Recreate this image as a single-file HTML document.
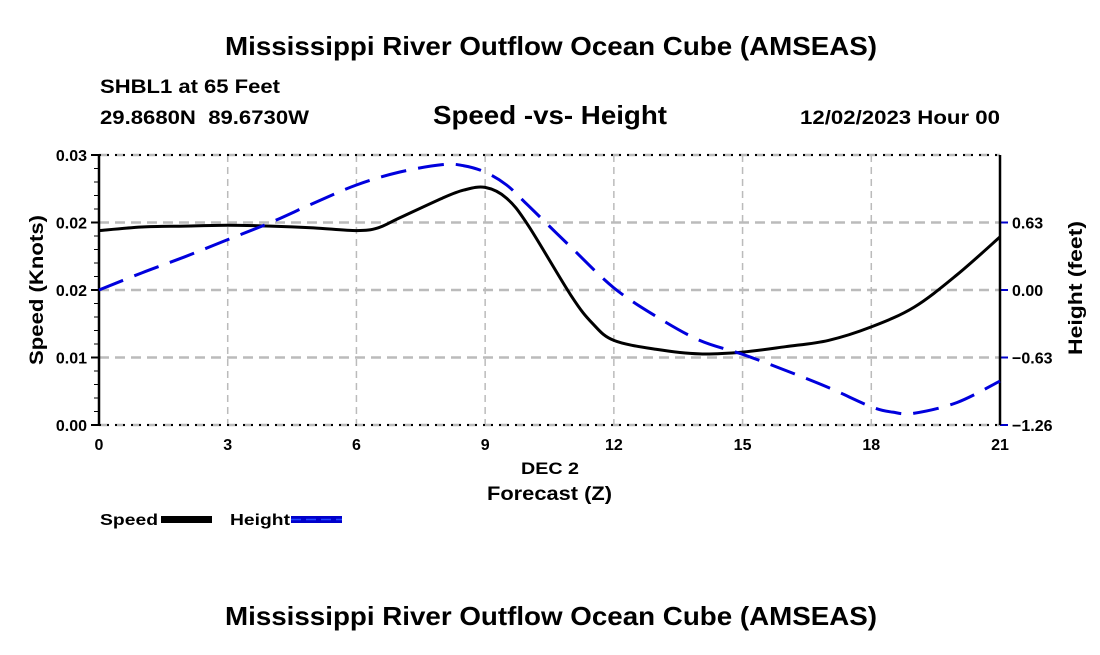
<!DOCTYPE html>
<html><head><meta charset="utf-8"><style>
body{margin:0;background:#fff;}
svg text{font-family:"Liberation Sans",Arial,sans-serif;font-weight:bold;fill:#000;}
</style></head><body>
<svg id="chart" width="1100" height="650" xmlns="http://www.w3.org/2000/svg">
<text x="225" y="55" font-size="26" textLength="652" lengthAdjust="spacingAndGlyphs">Mississippi River Outflow Ocean Cube (AMSEAS)</text>
<text x="100" y="93" font-size="19" textLength="180" lengthAdjust="spacingAndGlyphs">SHBL1 at 65 Feet</text>
<text x="100" y="124" font-size="19" textLength="209" lengthAdjust="spacingAndGlyphs" xml:space="preserve">29.8680N  89.6730W</text>
<text x="433" y="124" font-size="26" textLength="234" lengthAdjust="spacingAndGlyphs">Speed -vs- Height</text>
<text x="800" y="124" font-size="19" textLength="200" lengthAdjust="spacingAndGlyphs">12/02/2023 Hour 00</text>
<g id="grid"></g>
<g id="axes"></g>
<g id="series"></g>
<text x="521" y="474" font-size="17" textLength="58" lengthAdjust="spacingAndGlyphs">DEC 2</text>
<text x="487" y="500" font-size="19" textLength="125" lengthAdjust="spacingAndGlyphs">Forecast (Z)</text>
<text transform="translate(43,365) rotate(-90)" font-size="19" textLength="150" lengthAdjust="spacingAndGlyphs">Speed (Knots)</text>
<text transform="translate(1082,355) rotate(-90)" font-size="19" textLength="134" lengthAdjust="spacingAndGlyphs">Height (feet)</text>
<g><text x="100" y="525" font-size="16" textLength="58" lengthAdjust="spacingAndGlyphs">Speed</text><rect x="161" y="516" width="51" height="7" fill="#000"/></g>
<g><text x="230" y="525" font-size="16" textLength="60" lengthAdjust="spacingAndGlyphs">Height</text><rect x="291" y="516" width="51" height="7" fill="#0000cc"/><line x1="291" y1="519.5" x2="342" y2="519.5" stroke="#2244ff" stroke-width="1.5" stroke-dasharray="10,5"/></g>
<text x="225" y="625" font-size="26" textLength="652" lengthAdjust="spacingAndGlyphs">Mississippi River Outflow Ocean Cube (AMSEAS)</text>
</svg>
<script>
const hours=[0,1,2,3,4,5,6,6.5,7,8,8.5,9,9.5,10,11,11.5,12,13,14,15,16,17,18,19,20,21];
const speed=[0.0216,0.0220,0.0221,0.0222,0.0221,0.0219,0.0216,0.0219,0.0230,0.0252,0.0261,0.0264,0.0252,0.0222,0.0144,0.0113,0.0094,0.0084,0.0079,0.0081,0.0087,0.0094,0.0109,0.0131,0.0167,0.0209];
const hHours=[0,1,2,3,4,5,6,7,8,8.5,9,9.5,10,11,12,13,14,15,16,17,18,18.5,19,20,21];
const height=[0,0.16,0.31,0.47,0.63,0.81,0.98,1.10,1.17,1.16,1.10,0.98,0.79,0.40,0.02,-0.25,-0.47,-0.60,-0.75,-0.91,-1.09,-1.14,-1.15,-1.05,-0.85];
const xTicks=[0,3,6,9,12,15,18,21];
const leftTicks=[0,0.0075,0.015,0.0225,0.03];
const leftLabels=["0.00","0.01","0.02","0.02","0.03"];
const rightTicks=[-1.26,-0.63,0,0.63];
const rightLabels=["\u22121.26","\u22120.63","0.00","0.63"];
const L=99,R=1000,T=155,B=425;
const xS=h=>L+(h-0)/21*(R-L);
const yS=v=>B-v/0.03*(B-T);
const yH=v=>B-(v+1.26)/2.52*(B-T);
const NS="http://www.w3.org/2000/svg";
function mk(tag,attrs,parent){const e=document.createElementNS(NS,tag);for(const k in attrs)e.setAttribute(k,attrs[k]);document.getElementById(parent).appendChild(e);return e;}
xTicks.forEach(t=>{
 const g=mk('line',{x1:xS(t),x2:xS(t),y1:T,y2:B,stroke:'#bbb','stroke-width':1.5,'stroke-dasharray':'7,5'},'grid');
 
 
 const tx=mk('text',{x:xS(t),y:B+25,'font-size':16,'text-anchor':'middle'},'axes');tx.textContent=t;
 
 
});
leftTicks.forEach((t,i)=>{
 const g=mk('line',{x1:L,x2:R,y1:yS(t),y2:yS(t),stroke:'#bbb','stroke-width':2.5,'stroke-dasharray':'10,6'},'grid');
 
 
 const tx=mk('text',{x:L-12,y:yS(t)+6,'font-size':16,'text-anchor':'end'},'axes');tx.textContent=leftLabels[i];
 
 
 const tk=mk('line',{x1:L-8,x2:L,y1:yS(t),y2:yS(t),stroke:'#000','stroke-width':2},'axes');
 
 
});
for(let v=0;v<=0.03;v+=0.0015){const tk=mk('line',{x1:L-5,x2:L,y1:yS(v),y2:yS(v),stroke:'#000','stroke-width':1},'axes');
 
 }
rightTicks.forEach((t,i)=>{
 const tx=mk('text',{x:R+12,y:yH(t)+6,'font-size':16},'axes');tx.textContent=rightLabels[i];
 
 
 const tk=mk('line',{x1:R,x2:R+8,y1:yH(t),y2:yH(t),stroke:'#0000cc','stroke-width':2},'axes');
 
 
});
[[L,T,R,T],[L,B,R,B]].forEach(a=>{const l=mk('line',{x1:a[0],y1:a[1],x2:a[2],y2:a[3],stroke:'#000','stroke-width':2,'stroke-dasharray':'2,6'},'axes');
 
 });
[[L,T,L,B],[R,T,R,B]].forEach(a=>{const l=mk('line',{x1:a[0],y1:a[1],x2:a[2],y2:a[3],stroke:'#000','stroke-width':2.5},'axes');
 
 });
function smooth(pts){let d='M'+pts[0][0]+','+pts[0][1];for(let i=0;i<pts.length-1;i++){const p0=pts[Math.max(0,i-1)],p1=pts[i],p2=pts[i+1],p3=pts[Math.min(pts.length-1,i+2)];
 const c1=[p1[0]+(p2[0]-p0[0])/6,p1[1]+(p2[1]-p0[1])/6],c2=[p2[0]-(p3[0]-p1[0])/6,p2[1]-(p3[1]-p1[1])/6];
 d+=' C'+c1+' '+c2+' '+p2;}return d;}
const sp=mk('path',{d:smooth(hours.map((h,i)=>[xS(h),yS(speed[i])])),fill:'none',stroke:'#000','stroke-width':3},'series');


const hp=mk('path',{d:smooth(hHours.map((h,i)=>[xS(h),yH(height[i])])),fill:'none',stroke:'#0000dd','stroke-width':3,'stroke-dasharray':'26,12'},'series');


</script>
</body></html>
